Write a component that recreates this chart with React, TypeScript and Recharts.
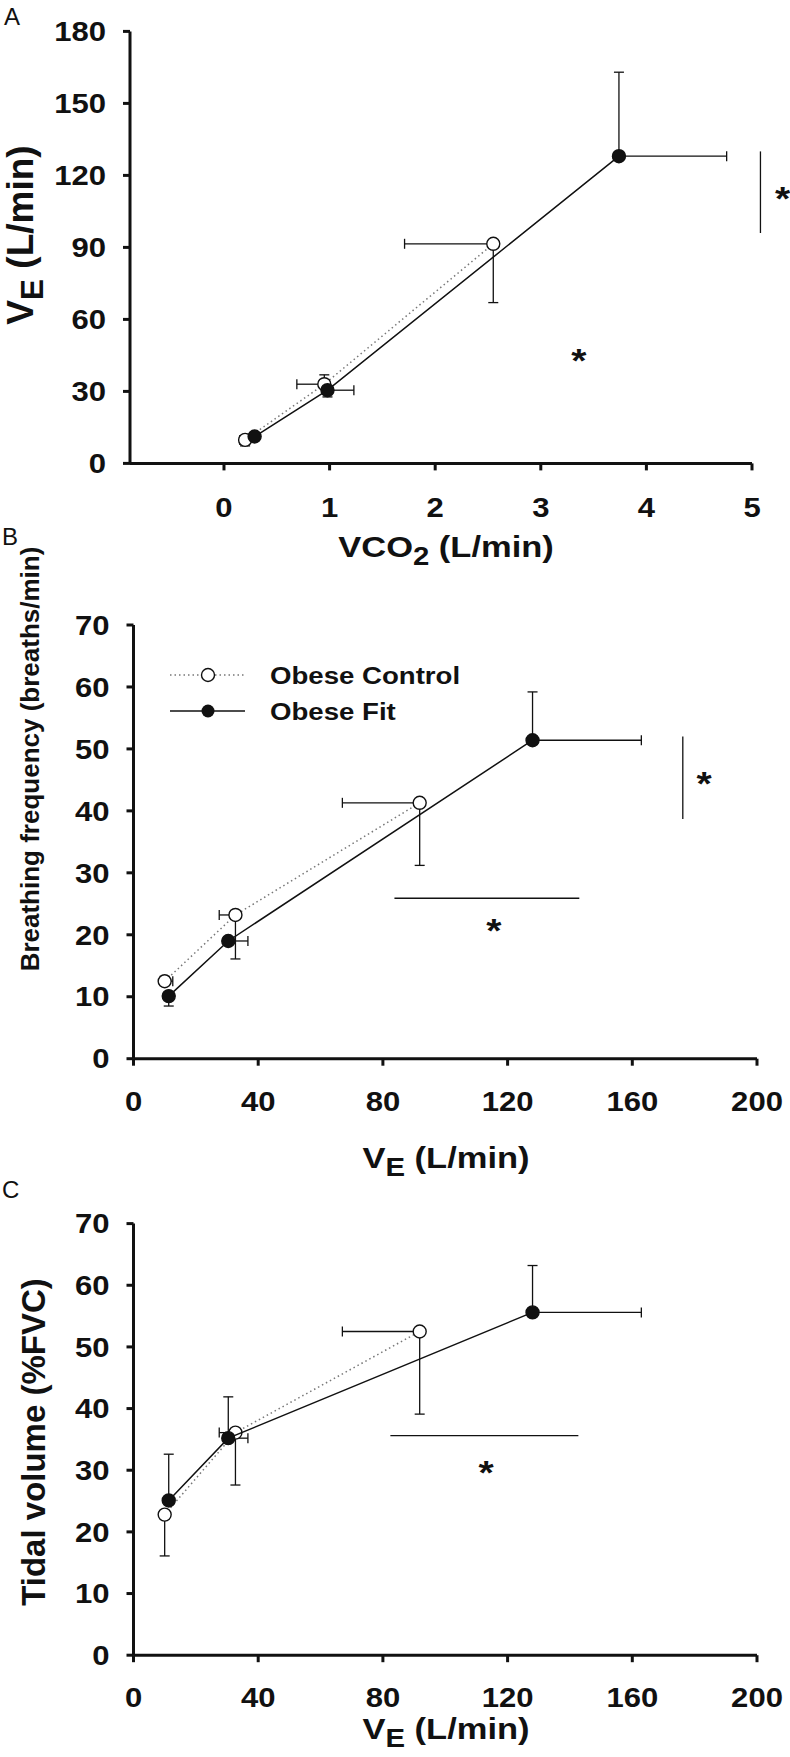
import React from 'react';
import { ScatterChart, Scatter, XAxis, YAxis, ErrorBar, ReferenceLine, ReferenceDot, Legend } from 'recharts';

const FONT = '"Liberation Sans", Arial, Helvetica, sans-serif';
const INK = '#111';
const SX = 1.15; // the figure's lettering is a little wider than Arial

const seriesNames = ['Obese Control', 'Obese Fit'];

// Panel A: VE against VCO2
const vco2Control = [0.2, 0.95, 2.55];
const veCtrlA = [9.8, 33, 91.5];
const vco2CtrlErr = [[0.05, 0], [0.26, 0], [0.84, 0]];
const veCtrlAErr = [[2.5, 0], [0, 3.9], [24.5, 0]];
const vco2Fit = [0.29, 0.98, 3.74];
const veFitA = [11.2, 30.5, 128];
const vco2FitErr = [[0, 0.03], [0, 0.25], [0, 1.02]];
const veFitAErr = [[0, 1.5], [2.8, 0], [0, 35]];
const vco2Ticks = [0, 1, 2, 3, 4, 5];
const veTicksA = [0, 30, 60, 90, 120, 150, 180];

// Panels B and C: x is VE
const veControl = [10, 32.7, 91.8];
const veFit = [11.3, 30.4, 128];
const veCtrlErrB = [[0, 2.6], [5.2, 0], [24.8, 0]];
const veCtrlErrC = [[1.2, 0], [5.2, 0], [24.8, 0]];
const veFitErr = [[0, 0], [0, 6.3], [0, 34.9]];
const veTicks = [0, 40, 80, 120, 160, 200];
const pctTicks = [0, 10, 20, 30, 40, 50, 60, 70];

// B: breathing frequency
const bfControl = [12.5, 23.2, 41.3];
const bfControlErr = [[0, 0.8], [7.1, 0], [10.1, 0]];
const bfFit = [10.1, 19, 51.4];
const bfFitErr = [[1.6, 0], [0, 0], [0, 7.8]];

// C: tidal volume
const vtControl = [22.8, 36.1, 52.5];
const vtControlErr = [[6.7, 0], [8.5, 0], [13.4, 0]];
const vtFit = [25.1, 35.2, 55.6];
const vtFitErr = [[0, 7.5], [0, 6.7], [0, 7.6]];

// significance marks: lines [x1, y1, x2, y2], stars [x, y]
const sigLinesA = [[5.08, 96, 5.08, 130]];
const sigStarsA = [[5.29, 114], [3.36, 46.5]];
const sigLinesB = [[83.7, 25.9, 143, 25.9], [176.2, 38.7, 176.2, 52]];
const sigStarsB = [[115.6, 22.1], [183, 45.9]];
const sigLinesC = [[82.4, 35.6, 142.7, 35.6]];
const sigStarsC = [[113.1, 31.1]];

const rows = (xs: number[], ys: number[], xe: number[][], ye: number[][]) =>
  xs.map((x, i) => ({ x, y: ys[i], xe: xe[i], ye: ye[i] }));

const axisStyle = { stroke: INK, strokeWidth: 3 };

const openDot = (p: any) => <circle cx={p.cx} cy={p.cy} r={6.5} fill="#fff" stroke={INK} strokeWidth={1.4} />;
const fillDot = (p: any) => <circle cx={p.cx} cy={p.cy} r={6.5} fill={INK} stroke={INK} strokeWidth={1.4} />;
const star = (p: any) => (
  <text transform={`translate(${p.cx},${p.cy}) scale(${SX},1)`} dy="0.6em" textAnchor="middle"
    fontFamily={FONT} fontWeight="bold" fontSize={34} fill={INK}>*</text>
);

const XTick = ({ x, y, payload, dy }: any) => (
  <text transform={`translate(${x},${y + dy}) scale(${SX},1)`} textAnchor="middle"
    fontFamily={FONT} fontWeight="bold" fontSize={27} fill={INK}>{payload.value}</text>
);
const YTick = ({ x, y, payload }: any) => (
  <text transform={`translate(${x - 15},${y}) scale(${SX},1)`} dy="0.36em" textAnchor="end"
    fontFamily={FONT} fontWeight="bold" fontSize={27} fill={INK}>{payload.value}</text>
);

// axis title with a subscript, e.g. V + E + " (L/min)"
function Title({ x, y, size, parts, rotate }: any) {
  const [a, sub, rest] = parts;
  const t = rotate ? `translate(${x},${y}) rotate(-90)` : `translate(${x},${y}) scale(${SX},1)`;
  return (
    <text transform={t} textAnchor="middle" fontFamily={FONT} fontWeight="bold" fontSize={size} fill={INK}>
      <tspan>{a}</tspan>
      {sub ? <tspan fontSize={size * 0.85} dy={size * 0.28}>{sub}</tspan> : null}
      {rest ? <tspan dy={sub ? -size * 0.28 : 0}>{rest}</tspan> : null}
    </text>
  );
}

function LegendBox() {
  return (
    <svg width={310} height={80} style={{ display: 'block' }}>
      <line x1={10} x2={85} y1={25} y2={25} stroke="#777" strokeWidth={1.5} strokeDasharray="1.5 3" />
      <circle cx={48} cy={25} r={6.5} fill="#fff" stroke={INK} strokeWidth={1.4} />
      <line x1={10} x2={85} y1={61} y2={61} stroke={INK} strokeWidth={1.5} />
      <circle cx={48} cy={61} r={6.5} fill={INK} />
      <text transform={`translate(110,33.5) scale(${SX},1)`} fontFamily={FONT} fontWeight="bold" fontSize={24} fill={INK}>{seriesNames[0]}</text>
      <text transform={`translate(110,69.5) scale(${SX},1)`} fontFamily={FONT} fontWeight="bold" fontSize={24} fill={INK}>{seriesNames[1]}</text>
    </svg>
  );
}

function Panel(p: any) {
  return (
    <div style={{ position: 'absolute', left: 0, top: p.top }}>
      <ScatterChart width={790} height={p.height} margin={{ top: p.mTop, right: p.mRight, bottom: 0, left: 0 }}
        style={{ overflow: 'visible' }}>
        <XAxis type="number" dataKey="x" domain={p.xDomain} ticks={p.xTicks} allowDataOverflow
          height={p.xh} axisLine={axisStyle} tickLine={axisStyle} tickSize={7}
          tick={(t: any) => <XTick {...t} dy={p.tickDy} />}
          label={() => p.xTitle} />
        <YAxis type="number" dataKey="y" domain={p.yDomain} ticks={p.yTicks} allowDataOverflow
          width={p.yw} axisLine={axisStyle} tickLine={axisStyle} tickSize={7}
          tick={(t: any) => <YTick {...t} />}
          label={() => p.yTitle} />
        {p.legend ? (
          <Legend layout="vertical" align="center" verticalAlign="middle"
            wrapperStyle={{ left: 160, top: p.legendTop, width: 310 }} content={() => <LegendBox />} />
        ) : null}
        <Scatter name={seriesNames[0]} data={p.control} shape={openDot} isAnimationActive={false}
          line={{ stroke: '#777', strokeWidth: 1.5, strokeDasharray: '1.5 3' }}>
          <ErrorBar dataKey="xe" direction="x" width={5} stroke={INK} strokeWidth={1.3} isAnimationActive={false} />
          <ErrorBar dataKey="ye" direction="y" width={5} stroke={INK} strokeWidth={1.3} isAnimationActive={false} />
        </Scatter>
        <Scatter name={seriesNames[1]} data={p.fit} shape={fillDot} isAnimationActive={false}
          line={{ stroke: INK, strokeWidth: 1.5 }}>
          <ErrorBar dataKey="xe" direction="x" width={5} stroke={INK} strokeWidth={1.3} isAnimationActive={false} />
          <ErrorBar dataKey="ye" direction="y" width={5} stroke={INK} strokeWidth={1.3} isAnimationActive={false} />
        </Scatter>
        {p.sigLines.map((s: number[], i: number) => (
          <ReferenceLine key={'l' + i} segment={[{ x: s[0], y: s[1] }, { x: s[2], y: s[3] }]}
            stroke={INK} strokeWidth={1.3} ifOverflow="visible" />
        ))}
        {p.sigStars.map((s: number[], i: number) => (
          <ReferenceDot key={'s' + i} x={s[0]} y={s[1]} r={0} ifOverflow="visible" shape={star} />
        ))}
      </ScatterChart>
    </div>
  );
}

export default function App() {
  return (
    <div style={{ position: 'absolute', left: 0, top: 0, width: 790, height: 1757, background: '#fff', overflow: 'hidden' }}>
      <Panel top={0} height={578} mTop={31.4} mRight={38} xh={114.6} yw={130} tickDy={45}
        xDomain={[-0.89, 5]} xTicks={vco2Ticks} yDomain={[0, 180]} yTicks={veTicksA}
        control={rows(vco2Control, veCtrlA, vco2CtrlErr, veCtrlAErr)}
        fit={rows(vco2Fit, veFitA, vco2FitErr, veFitAErr)}
        sigLines={sigLinesA} sigStars={sigStarsA}
        xTitle={<Title x={446} y={557} size={30} parts={['VCO', '2', ' (L/min)']} />}
        yTitle={<Title x={33} y={235} size={37} rotate parts={['V', 'E', ' (L/min)']} />} />
      <Panel top={520} height={672} mTop={105} mRight={33} xh={133.3} yw={133.5} tickDy={43}
        xDomain={[0, 200]} xTicks={veTicks} yDomain={[0, 70]} yTicks={pctTicks}
        control={rows(veControl, bfControl, veCtrlErrB, bfControlErr)}
        fit={rows(veFit, bfFit, veFitErr, bfFitErr)}
        sigLines={sigLinesB} sigStars={sigStarsB} legend legendTop={130}
        xTitle={<Title x={446} y={648} size={30} parts={['V', 'E', ' (L/min)']} />}
        yTitle={<Title x={39} y={239} size={26} rotate parts={['Breathing frequency (breaths/min)']} />} />
      <Panel top={1160} height={597} mTop={63.6} mRight={33} xh={101.8} yw={133.5} tickDy={43}
        xDomain={[0, 200]} xTicks={veTicks} yDomain={[0, 70]} yTicks={pctTicks}
        control={rows(veControl, vtControl, veCtrlErrC, vtControlErr)}
        fit={rows(veFit, vtFit, veFitErr, vtFitErr)}
        sigLines={sigLinesC} sigStars={sigStarsC}
        xTitle={<Title x={446} y={579} size={30} parts={['V', 'E', ' (L/min)']} />}
        yTitle={<Title x={45} y={282} size={33} rotate parts={['Tidal volume (%FVC)']} />} />
      <svg width={790} height={1757} style={{ position: 'absolute', left: 0, top: 0, pointerEvents: 'none' }}>
        <text x={4} y={25} fontFamily={FONT} fontSize={24} fill={INK}>A</text>
        <text x={2} y={545} fontFamily={FONT} fontSize={24} fill={INK}>B</text>
        <text x={2} y={1198} fontFamily={FONT} fontSize={24} fill={INK}>C</text>
      </svg>
    </div>
  );
}
